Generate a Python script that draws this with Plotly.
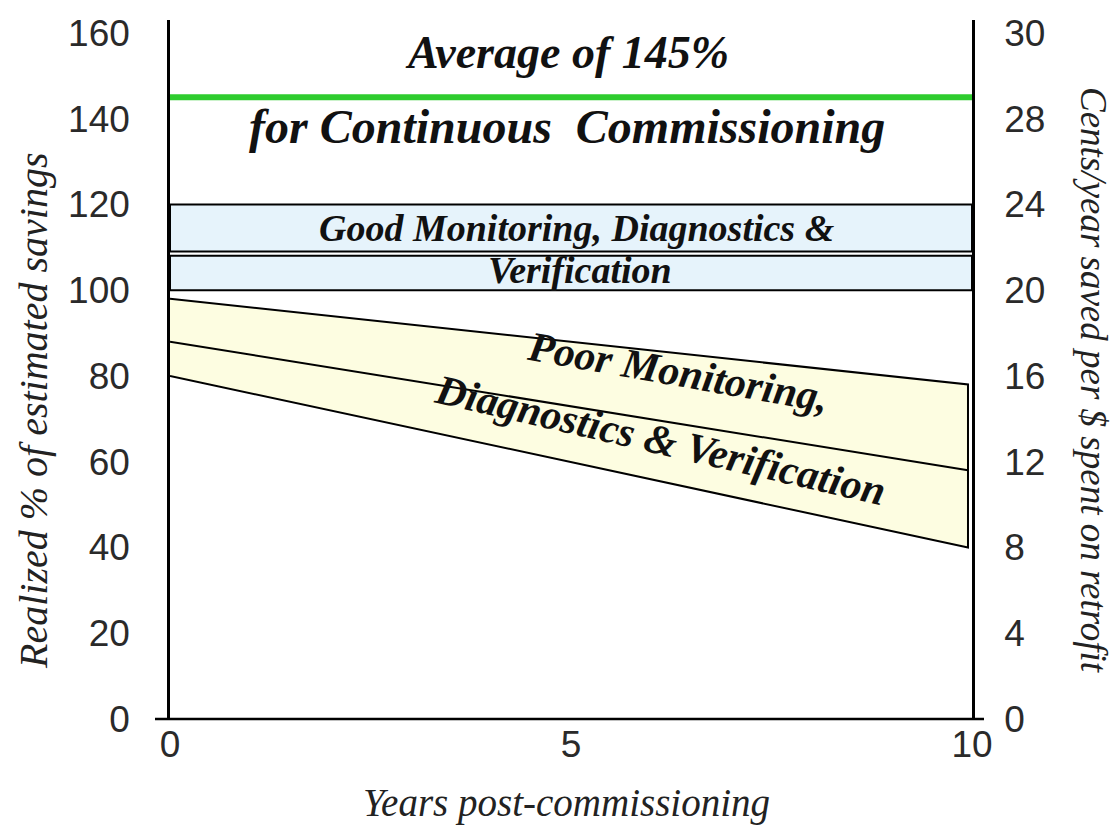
import plotly.graph_objects as go

# ---- data ----
years = [0, 10]
avg_cc = [145, 145]                 # continuous commissioning average (%)
good_box1 = [109, 120]              # good MD&V band, upper box (lower, upper)
good_box2 = [100, 108]              # good MD&V band, lower box
poor_x = [0, 9.95]
poor_top = [98, 78]
poor_mid = [88, 58]
poor_bottom = [80, 40]
left_ticks = [0, 20, 40, 60, 80, 100, 120, 140, 160]
right_tick_labels = ["0", "4", "8", "12", "16", "20", "24", "28", "30"]
x_ticks = [0, 5, 10]

W, H = 1117, 829
L, R, T, B = 170, 145, 20, 110
PW, PH = W - L - R, H - T - B
YMAX = 163

def px(xpix):
    return (xpix - L) / PW

def py(ypix):
    return (H - B - ypix) / PH

fig = go.Figure()

# poor MD&V band
fig.add_trace(go.Scatter(
    x=poor_x + poor_x[::-1], y=poor_top + poor_bottom[::-1],
    fill="toself", fillcolor="#fdfde1", mode="lines",
    line=dict(color="black", width=2), hoverinfo="skip"))
fig.add_trace(go.Scatter(x=poor_x, y=poor_mid, mode="lines",
                         line=dict(color="black", width=2), hoverinfo="skip"))

# good MD&V boxes
for lo, hi in (good_box1, good_box2):
    fig.add_trace(go.Scatter(
        x=[years[0], years[1], years[1], years[0], years[0]],
        y=[lo, lo, hi, hi, lo],
        fill="toself", fillcolor="#e6f3fb", mode="lines",
        line=dict(color="black", width=2), hoverinfo="skip"))

# continuous commissioning average
fig.add_trace(go.Scatter(x=years, y=avg_cc, mode="lines",
                         line=dict(color="#2ecc2e", width=6), hoverinfo="skip"))

# invisible trace for right axis
fig.add_trace(go.Scatter(x=[0], y=[0], yaxis="y2", mode="markers",
                         marker=dict(opacity=0), hoverinfo="skip"))

tick_font = dict(family="Liberation Sans", size=37, color="#2a2a2a")

fig.update_layout(
    width=W, height=H,
    margin=dict(l=L, r=R, t=T, b=B),
    plot_bgcolor="white", paper_bgcolor="white",
    showlegend=False,
    xaxis=dict(range=[0, 10], tickvals=x_ticks, showgrid=False, zeroline=False,
               showline=False, ticks="", tickfont=tick_font),
    yaxis=dict(range=[0, YMAX], tickvals=left_ticks, showgrid=False,
               zeroline=False, showline=True, linecolor="black", linewidth=2.5,
               ticks="outside", ticklen=30, tickcolor="rgba(0,0,0,0)",
               tickfont=tick_font),
    yaxis2=dict(range=[0, YMAX], overlaying="y", side="right",
                tickvals=left_ticks, ticktext=right_tick_labels,
                showgrid=False, zeroline=False, showline=True,
                linecolor="black", linewidth=2.5, ticks="outside", ticklen=22,
                tickcolor="rgba(0,0,0,0)", tickfont=tick_font),
)

# x axis line extending past both y axes
fig.add_shape(type="line", xref="paper", yref="paper",
              x0=px(155), x1=px(984), y0=0, y1=0,
              line=dict(color="black", width=2.5))

serif = "Liberation Serif"

def sfont(size, bold=True, color="#111"):
    return dict(family=serif, size=size, color=color, style="italic",
                weight="bold" if bold else "normal")

ann = []
ann.append(dict(text="Average of 145%", x=px(567), y=py(53), font=sfont(46)))
ann.append(dict(text="for Continuous  Commissioning", x=px(567), y=py(126), font=sfont(48)))
ann.append(dict(text="Good Monitoring, Diagnostics &amp;", x=px(577), y=py(228), font=sfont(38)))
ann.append(dict(text="Verification", x=px(580), y=py(270), font=sfont(38)))
ann.append(dict(text="Poor Monitoring,", x=px(678), y=py(372), textangle=10, font=sfont(42)))
ann.append(dict(text="Diagnostics &amp; Verification", x=px(660), y=py(440), textangle=13,
                font=sfont(42)))
# axis titles
ann.append(dict(text="Realized % of estimated savings", x=px(33), y=py(411),
                textangle=-90, font=sfont(40, bold=False, color="#222")))
ann.append(dict(text="Years post-commissioning", x=px(566), y=py(803),
                font=sfont(39, bold=False, color="#222")))
ann.append(dict(text="Cents/year saved per $ spent on retrofit", x=px(1094), y=py(380),
                textangle=90, font=sfont(37, bold=False, color="#222")))

for a in ann:
    a.update(xref="paper", yref="paper", showarrow=False,
             xanchor="center", yanchor="middle")
    fig.add_annotation(**a)

fig.write_html("out.html")
